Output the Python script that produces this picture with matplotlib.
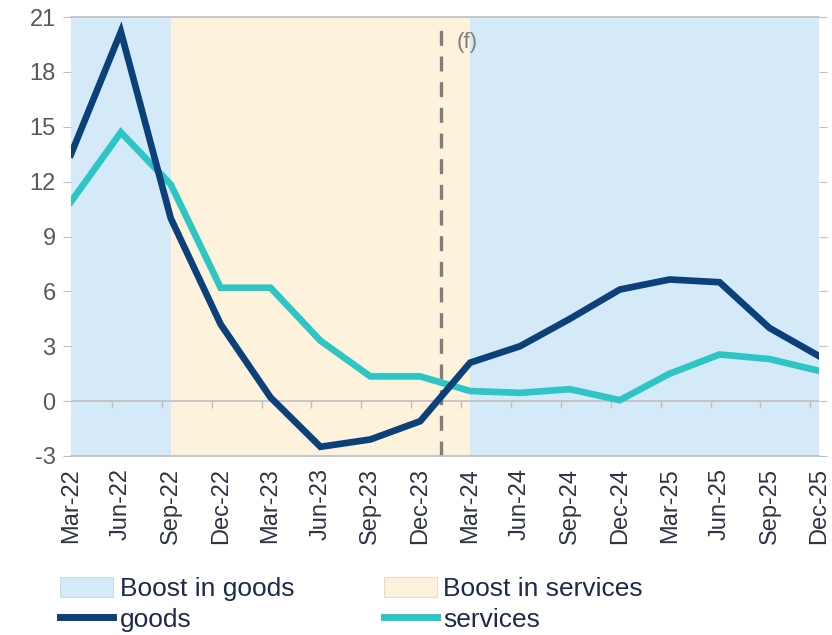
import matplotlib
matplotlib.use("Agg")
import matplotlib.pyplot as plt
from matplotlib.patches import Patch
from matplotlib.lines import Line2D

plt.rcParams['font.family'] = ['Liberation Sans', 'DejaVu Sans']

quarters = ["Mar-22", "Jun-22", "Sep-22", "Dec-22", "Mar-23", "Jun-23", "Sep-23", "Dec-23",
            "Mar-24", "Jun-24", "Sep-24", "Dec-24", "Mar-25", "Jun-25", "Sep-25", "Dec-25"]
goods = [13.5, 20.2, 10.0, 4.2, 0.2, -2.5, -2.1, -1.1, 2.1, 3.0, 4.5, 6.1, 6.65, 6.5, 4.0, 2.45]
services = [10.9, 14.7, 11.85, 6.2, 6.2, 3.3, 1.35, 1.35, 0.55, 0.45, 0.65, 0.05, 1.5, 2.55, 2.3, 1.65]

# shaded regimes: (start index, end index)
goods_periods = [(0, 2), (8, 15)]
services_periods = [(2, 8)]
forecast_start = 7.42

yticks = list(range(-3, 22, 3))

GOODS_C = "#0B4079"
SERV_C = "#2EC6C4"
BLUE_BG = "#D5EAF8"
BEIGE_BG = "#FDF2DC"
GRAY = "#595959"
DARK = "#2E3444"
LEGEND_TXT = "#1C2B4A"
LINE_GRAY = "#BFBFBF"

fig = plt.figure(figsize=(8.32, 6.35), dpi=100)
ax = fig.add_axes([0.0853, 0.282, 0.8995, 0.691])

x = list(range(len(quarters)))

for a, b in goods_periods:
    ax.axvspan(a, b, color=BLUE_BG, lw=0, zorder=0)
for a, b in services_periods:
    ax.axvspan(a, b, color=BEIGE_BG, lw=0, zorder=0)

ax.axhline(0, color=LINE_GRAY, lw=1.2, zorder=1)
ax.axvline(forecast_start, ymax=0.985, color="#7F7F7F", lw=2.4, ls=(0, (4.5, 3.2)), zorder=2)
ax.text(forecast_start + 0.3, 19.6, "(f)", color="#7F7F7F", fontsize=16, va="center", ha="left")

ax.plot(x, services, color=SERV_C, lw=4.8, solid_joinstyle="miter", zorder=3)
ax.plot(x, goods, color=GOODS_C, lw=4.8, solid_joinstyle="miter", zorder=4)

ax.set_xlim(0, len(quarters) - 1)
ax.set_ylim(-3, 21)
ax.set_yticks(yticks)
ax.set_yticklabels([str(v) for v in yticks])
ax.set_xticks(x)
ax.set_xticklabels(quarters, rotation=90)

ax.tick_params(axis="y", which="both", left=True, right=True, direction="out", length=6,
               color=LINE_GRAY, labelcolor=GRAY, labelsize=17, pad=5)
ax.tick_params(axis="x", length=0, labelcolor=DARK, labelsize=17, pad=9)

for side in ["left", "right"]:
    ax.spines[side].set_visible(False)
for side in ["top", "bottom"]:
    ax.spines[side].set_color(LINE_GRAY)
    ax.spines[side].set_linewidth(1.2)

# small ticks hanging below the zero line
zero_frac = (0 - (-3)) / (21 - (-3))
sec = ax.secondary_xaxis(zero_frac)
sec.set_xticks([i - 0.18 for i in x[1:]])
sec.set_xticklabels([])
sec.tick_params(direction="out", length=5, color=LINE_GRAY, width=1)
sec.spines["bottom"].set_visible(False)

handles = [Patch(facecolor=BLUE_BG, edgecolor="#C9DCEA", lw=0.8),
           Line2D([], [], color=GOODS_C, lw=5),
           Patch(facecolor=BEIGE_BG, edgecolor="#E8DDC6", lw=0.8),
           Line2D([], [], color=SERV_C, lw=5)]
labels = ["Boost in goods", "goods", "Boost in services", "services"]
leg = fig.legend(handles, labels, ncol=2, loc="lower left", bbox_to_anchor=(0.06, -0.012),
                 frameon=False, fontsize=19, handlelength=2.0, handleheight=0.8, handletextpad=0.25,
                 columnspacing=3.4, labelspacing=0.25, borderaxespad=0)
for t in leg.get_texts():
    t.set_color(LEGEND_TXT)

fig.savefig("out.png", dpi=100)
